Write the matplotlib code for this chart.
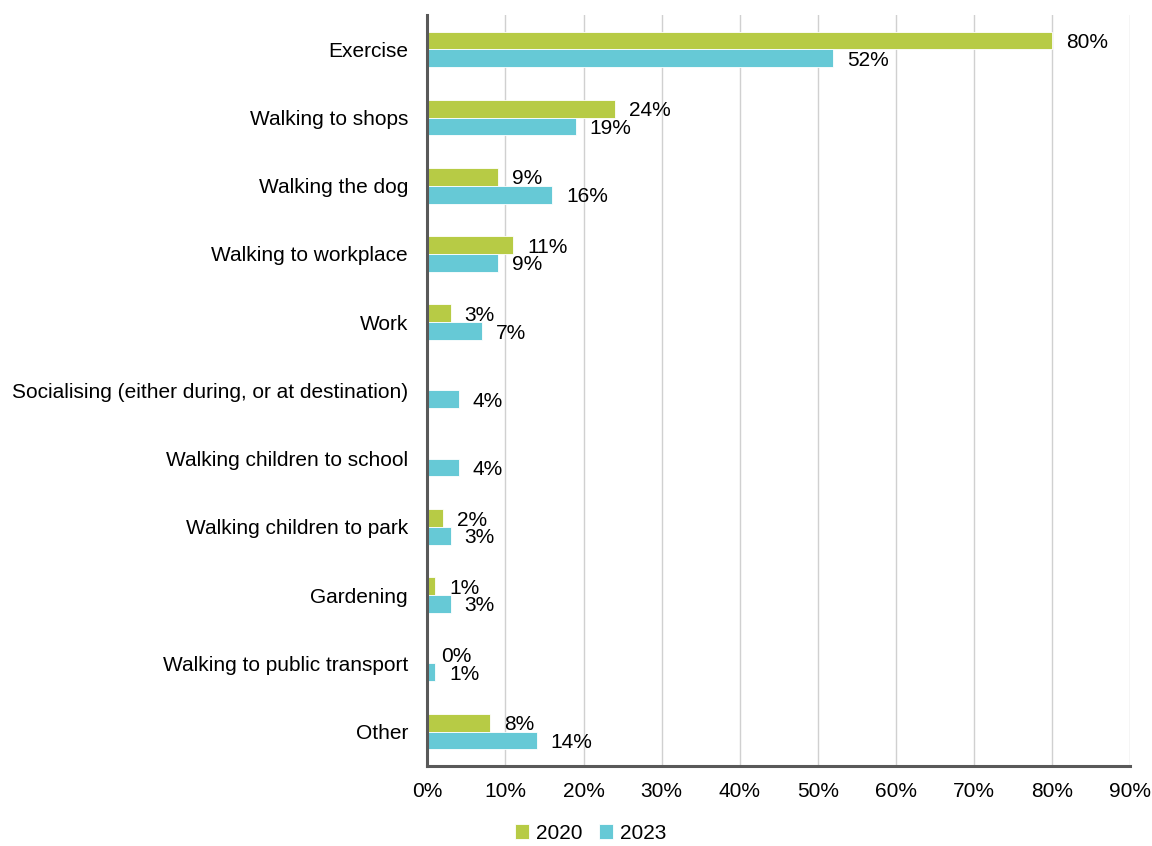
import matplotlib
matplotlib.use("Agg")
import matplotlib.pyplot as plt
import numpy as np

plt.rcParams["font.family"] = ["Liberation Sans", "DejaVu Sans"]

categories = [
    "Exercise", "Walking to shops", "Walking the dog", "Walking to workplace",
    "Work", "Socialising (either during, or at destination)",
    "Walking children to school", "Walking children to park", "Gardening",
    "Walking to public transport", "Other",
]
# None = no 2020 value shown
values_2020 = [80, 24, 9, 11, 3, None, None, 2, 1, 0, 8]
values_2023 = [52, 19, 16, 9, 7, 4, 4, 3, 3, 1, 14]

green = "#b7cb45"
cyan = "#66c9d6"
axis_grey = "#595959"
fs = 15

fig = plt.figure(figsize=(11.52, 8.46), dpi=100)
ax = fig.add_axes([0.371, 0.095, 0.610, 0.887])

y = np.arange(len(categories))
h = 0.26

v20 = [v if v is not None else 0 for v in values_2020]
ax.barh(y - h / 2, v20, height=h, color=green, edgecolor="white", linewidth=0.6,
        label="2020", zorder=3)
ax.barh(y + h / 2, values_2023, height=h, color=cyan, edgecolor="white", linewidth=0.6,
        label="2023", zorder=3)

for yi, v in zip(y, values_2020):
    if v is not None:
        ax.annotate(f"{v}%", (v, yi - h / 2 + 0.03), xytext=(10, 0),
                    textcoords="offset points", fontsize=fs, va="center", ha="left")
for yi, v in zip(y, values_2023):
    ax.annotate(f"{v}%", (v, yi + h / 2 + 0.03), xytext=(10, 0),
                textcoords="offset points", fontsize=fs, va="center", ha="left")

ax.set_xlim(0, 90)
ax.set_ylim(len(categories) - 0.5, -0.5)
ax.set_xticks(range(0, 91, 10))
ax.set_xticklabels([f"{t}%" for t in range(0, 91, 10)], fontsize=fs)
ax.set_yticks(y)
ax.set_yticklabels(categories, fontsize=fs)
ax.tick_params(length=0)
ax.tick_params(axis="x", pad=12)
ax.tick_params(axis="y", pad=14)

ax.grid(axis="x", color="#d0d0d0", linewidth=1.0, zorder=0)
for s in ["top", "right"]:
    ax.spines[s].set_visible(False)
for s in ["left", "bottom"]:
    ax.spines[s].set_color(axis_grey)
    ax.spines[s].set_linewidth(2.2)
    ax.spines[s].set_zorder(4)

ax.legend(loc="center", bbox_to_anchor=(0.232, -0.09), ncol=2, frameon=False,
          fontsize=fs, handlelength=0.7, handleheight=0.7, handletextpad=0.3,
          columnspacing=0.8)

fig.savefig("out.png", dpi=100)
